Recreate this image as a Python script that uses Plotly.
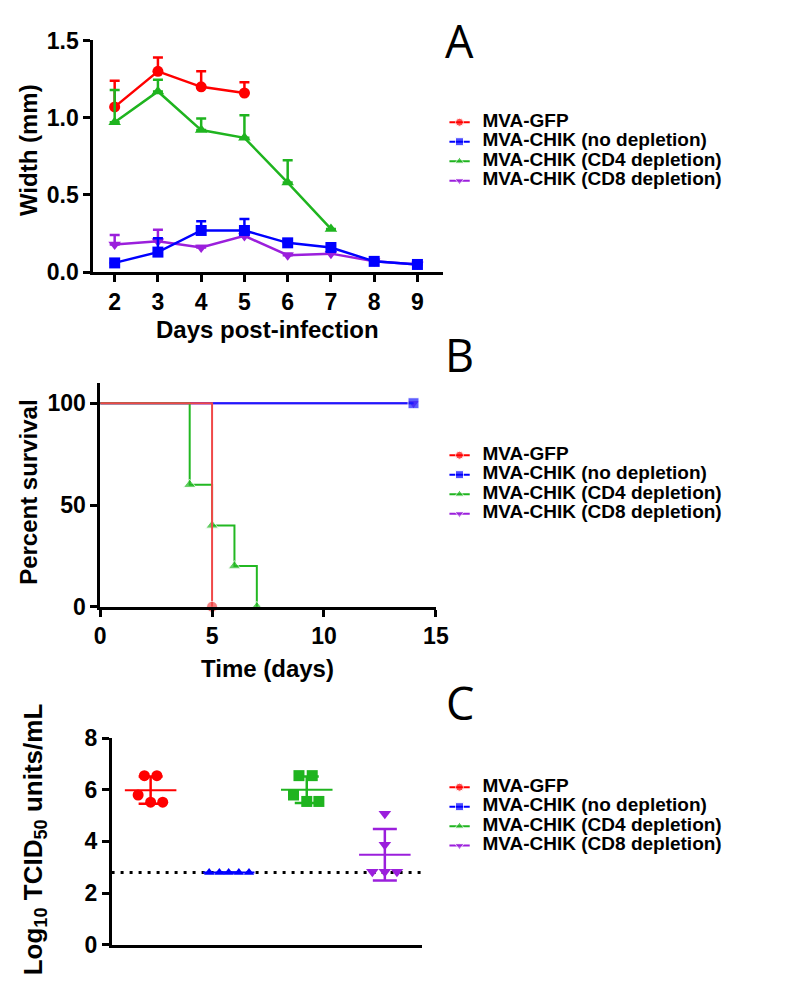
import plotly.graph_objects as go
import numpy as np

W, H = 788, 984

# ---------------- data ----------------
series_names = ["MVA-GFP", "MVA-CHIK (no depletion)",
                "MVA-CHIK (CD4 depletion)", "MVA-CHIK (CD8 depletion)"]

# Panel A: footpad width (mm), mean and upper error
days_gfp = [2, 3, 4, 5]
width_gfp = [1.07, 1.30, 1.20, 1.16]
err_gfp = [0.17, 0.09, 0.10, 0.07]

days_nodep = [2, 3, 4, 5, 6, 7, 8, 9]
width_nodep = [0.06, 0.13, 0.27, 0.27, 0.19, 0.16, 0.07, 0.05]
err_nodep = [0.0, 0.09, 0.06, 0.075, 0.02, 0.02, 0.01, 0.01]

days_cd4 = [2, 3, 4, 5, 6, 7]
width_cd4 = [0.97, 1.17, 0.92, 0.87, 0.58, 0.28]
err_cd4 = [0.21, 0.075, 0.075, 0.146, 0.145, 0.0]

days_cd8 = [2, 3, 4, 5, 6, 7, 8, 9]
width_cd8 = [0.18, 0.20, 0.16, 0.235, 0.11, 0.12, 0.07, 0.05]
err_cd8 = [0.06, 0.075, 0.01, 0.02, 0.01, 0.01, 0.01, 0.01]

# Panel B: survival (Kaplan-Meier)
surv_t_gfp = [0, 5]
surv_p_gfp = [100, 0]
surv_t_nodep = [0, 14]
surv_p_nodep = [100, 100]
surv_t_cd4 = [0, 4, 5, 6, 7]
surv_p_cd4 = [100, 60, 40, 20, 0]
surv_t_cd8 = [0, 14]
surv_p_cd8 = [100, 100]

# Panel C: log10 TCID50 titres
titer_gfp = [6.55, 6.55, 5.80, 5.52, 5.52]
titer_nodep = [2.80, 2.80, 2.80, 2.80, 2.80]
titer_cd4 = [6.55, 6.55, 5.80, 5.55, 5.55]
titer_cd8 = [5.07, 3.87, 2.82, 2.82, 2.82]
detection_limit = 2.8

# ---------------- style ----------------
colors = ["#ff0000", "#0000ff", "#1fb41f", "#9b1fdc"]
colors_b = ["#f04848", "#1a1aff", "#22b822", "#9b1fdc"]
symbols = ["circle", "square", "triangle-up", "triangle-down"]
symbols_c = ["circle", "triangle-up", "square", "triangle-down"]
jitter_c = [[-0.08, 0.08, -0.16, 0.0, 0.155],
            [-0.25, -0.12, 0.0, 0.13, 0.26],
            [-0.10, 0.07, -0.17, 0.0, 0.155],
            [0.0, 0.0, -0.16, 0.0, 0.155]]
FONT = "Liberation Sans, Arial, sans-serif"


def fx(px):
    return px / W


def fy(py):
    return 1 - py / H


fig = go.Figure()

# ---------------- Panel A ----------------
panelA = [(days_gfp, width_gfp, err_gfp, 0),
          (days_nodep, width_nodep, err_nodep, 1),
          (days_cd4, width_cd4, err_cd4, 2),
          (days_cd8, width_cd8, err_cd8, 3)]
for idx in [3, 1, 0, 2]:
    d, w, e, i = panelA[idx]
    fig.add_trace(go.Scatter(
        x=d, y=w, mode="lines+markers", xaxis="x", yaxis="y",
        line=dict(color=colors[i], width=2.5),
        marker=dict(symbol=symbols[i], size=11, color=colors[i]),
        error_y=dict(type="data", symmetric=False, array=e,
                     arrayminus=[0] * len(e), color=colors[i],
                     thickness=2.5, width=5),
        cliponaxis=False, name=series_names[i]))

# ---------------- Panel B ----------------
panelB = [(surv_t_gfp, surv_p_gfp), (surv_t_nodep, surv_p_nodep),
          (surv_t_cd4, surv_p_cd4), (surv_t_cd8, surv_p_cd8)]
for i in [3, 1, 2, 0]:
    t, p = panelB[i]
    sizes = [0] + [11] * (len(t) - 1)
    fig.add_trace(go.Scatter(
        x=t, y=p, mode="lines+markers", xaxis="x2", yaxis="y2",
        line=dict(color=colors_b[i], width=2, shape="hv"),
        marker=dict(symbol=symbols[i], size=sizes, color=colors_b[i]),
        cliponaxis=False, name=series_names[i]))

# ---------------- Panel C ----------------
fig.add_trace(go.Scatter(
    x=[-0.5, 3.5], y=[detection_limit, detection_limit], mode="lines",
    xaxis="x3", yaxis="y3",
    line=dict(color="black", width=3, dash="3px,6px"), cliponaxis=False))

titers = [titer_gfp, titer_nodep, titer_cd4, titer_cd8]
for i, vals in enumerate(titers):
    xs = [i + j for j in jitter_c[i]]
    fig.add_trace(go.Scatter(
        x=xs, y=vals, mode="markers", xaxis="x3", yaxis="y3",
        marker=dict(symbol=symbols_c[i], size=11 if i != 1 else 9,
                    color=colors[i]),
        cliponaxis=False, name=series_names[i]))
    m = float(np.mean(vals))
    sd = float(np.std(vals, ddof=1))
    fig.add_trace(go.Scatter(
        x=[i - 0.33, i + 0.33], y=[m, m], mode="lines",
        xaxis="x3", yaxis="y3", line=dict(color=colors[i], width=2),
        cliponaxis=False))
    fig.add_trace(go.Scatter(
        x=[i], y=[m], mode="markers", xaxis="x3", yaxis="y3",
        marker=dict(size=1, color="rgba(0,0,0,0)"),
        error_y=dict(type="data", array=[sd], color=colors[i],
                     thickness=2.5, width=12),
        cliponaxis=False))

# ---------------- Legends (one per panel) ----------------
legend_specs = [("x4", "y4", 104, 20), ("x5", "y5", 446, 20), ("x6", "y6", 787, 20)]
for xa, ya, first, gap in legend_specs:
    for i in range(4):
        fig.add_trace(go.Scatter(
            x=[0, 0.5, 1], y=[i, i, i], mode="lines+markers",
            xaxis=xa, yaxis=ya,
            line=dict(color=colors[i], width=2),
            marker=dict(symbol=symbols[i], size=[0, 8, 0], color=colors[i]),
            cliponaxis=False))
    fig.add_trace(go.Scatter(
        x=[1.62] * 4, y=list(range(4)), mode="text", xaxis=xa, yaxis=ya,
        text=series_names, textposition="middle right",
        textfont=dict(family=FONT, size=19, color="black", weight="bold"),
        cliponaxis=False))

axis_common = dict(showline=True, linecolor="black", linewidth=2.5,
                   ticks="outside", ticklen=7, tickwidth=2.5, tickcolor="black",
                   showgrid=False, zeroline=False,
                   tickfont=dict(family=FONT, size=23, color="black", weight="bold"))

layout = dict(
    width=W, height=H, margin=dict(l=0, r=0, t=0, b=0),
    paper_bgcolor="white", plot_bgcolor="white", showlegend=False,
    xaxis=dict(axis_common, domain=[fx(81), fx(440)], range=[1.5, 9.6],
               tickvals=[2, 3, 4, 5, 6, 7, 8, 9], anchor="y"),
    yaxis=dict(axis_common, domain=[fy(258), fy(20)], range=[0, 1.5],
               tickvals=[0, 0.5, 1.0, 1.5], tickformat=".1f", anchor="x"),
    xaxis2=dict(axis_common, domain=[fx(88.3), fx(432.3)], range=[0, 15],
                tickvals=[0, 5, 10, 15], anchor="y2"),
    yaxis2=dict(axis_common, domain=[fy(601.7), fy(371.7)], range=[0, 110],
                tickvals=[0, 50, 100], anchor="x2"),
    xaxis3=dict(axis_common, domain=[fx(100), fx(418)], range=[-0.5, 3.475],
                ticks="", showticklabels=False, anchor="y3"),
    yaxis3=dict(axis_common, domain=[fy(948.7), fy(736.7)], range=[0, 8],
                tickvals=[0, 2, 4, 6, 8], anchor="x3"),
)
for k, (xa, ya, first, gap) in enumerate(legend_specs):
    n = xa[1:]
    layout["xaxis" + n] = dict(domain=[fx(446), fx(780)], range=[0, 334 / 21],
                               visible=False, anchor="y" + n)
    layout["yaxis" + n] = dict(domain=[fy(first + 3.5 * gap), fy(first - 0.5 * gap)],
                               range=[3.5, -0.5], visible=False, anchor="x" + n)
fig.update_layout(**layout)

title_font = dict(family=FONT, size=24, color="black", weight="bold")
annotations = [
    dict(text="Width (mm)", x=fx(15), y=fy(133), textangle=-90),
    dict(text="Days post-infection", x=fx(260), y=fy(317), textangle=0),
    dict(text="Percent survival", x=fx(15), y=fy(484), textangle=-90),
    dict(text="Time (days)", x=fx(260), y=fy(665), textangle=0),
]
for a in annotations:
    fig.add_annotation(xref="paper", yref="paper", showarrow=False,
                       xanchor="center", yanchor="middle", font=title_font, **a)
fig.add_annotation(text="Log<sub>10</sub> TCID<sub>50</sub> units/mL",
                   xref="paper", yref="paper", x=fx(21), y=fy(840), textangle=-90,
                   showarrow=False, xanchor="center", yanchor="middle",
                   font=dict(family=FONT, size=26, color="black", weight="bold"))

letter_font = dict(family="Open Sans, sans-serif", size=45, color="black")
for txt, px, py in [("A", 457, 20), ("B", 456, 343), ("C", 457, 700)]:
    fig.add_annotation(text=txt, xref="paper", yref="paper", x=fx(px), y=fy(py),
                       showarrow=False, xanchor="center", yanchor="middle",
                       font=letter_font)

fig.write_html("out.html")
